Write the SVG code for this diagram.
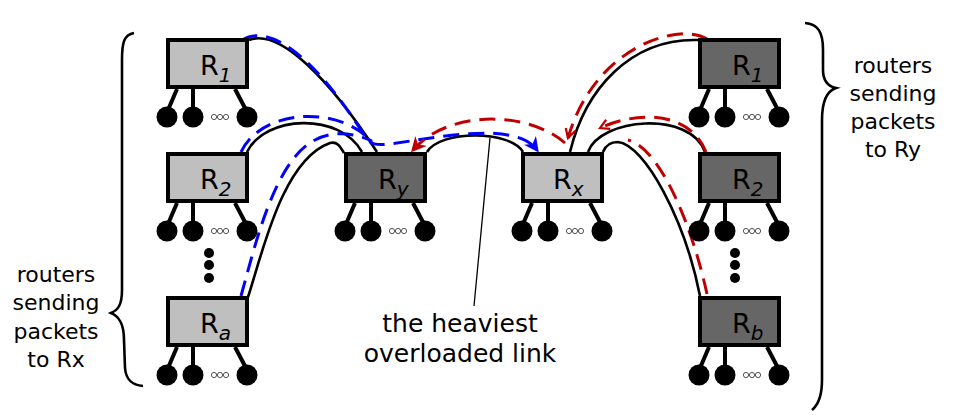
<svg xmlns="http://www.w3.org/2000/svg" xmlns:xlink="http://www.w3.org/1999/xlink" width="958" height="415" viewBox="0 0 958 415">
<style>
.box{stroke:#000;stroke-width:4}
.light{fill:#bfbfbf}
.dark{fill:#666666}
.lbl{font-family:"DejaVu Sans",sans-serif;font-size:27px;fill:#000}
.sub{font-size:20px;font-style:italic}
.txt{font-family:"DejaVu Sans",sans-serif;font-size:22px;fill:#000;text-anchor:middle}
.big{font-family:"DejaVu Sans",sans-serif;font-size:25px;fill:#000;text-anchor:middle}
.wire{fill:none;stroke:#000;stroke-width:2.6}
.blue{fill:none;stroke:#0000ff;stroke-width:3;stroke-dasharray:16 9}
.red{fill:none;stroke:#c00000;stroke-width:3;stroke-dasharray:16 9}
.brace{fill:none;stroke:#000;stroke-width:2.6}
</style>
<defs>
<g id="feet">
<g stroke="#000" stroke-width="4">
<line x1="11" y1="51" x2="2" y2="72"/>
<line x1="27" y1="51" x2="27" y2="72"/>
<line x1="69" y1="51" x2="80" y2="72"/>
</g>
<circle cx="1" cy="79" r="10.5" fill="#000"/>
<circle cx="27" cy="79" r="10.5" fill="#000"/>
<circle cx="81" cy="79" r="10.5" fill="#000"/>
<g fill="#fff" stroke="#555" stroke-width="1">
<circle cx="48" cy="79" r="2.6"/>
<circle cx="54" cy="79" r="2.6"/>
<circle cx="60" cy="79" r="2.6"/>
</g>
</g>
<marker id="arrB" viewBox="0 0 10 10" refX="8" refY="5" markerWidth="15" markerHeight="15" markerUnits="userSpaceOnUse" orient="auto">
<path d="M0,0 L10,5 L0,10 L3,5 z" fill="#0000ff"/>
</marker>
<marker id="arrR" viewBox="0 0 10 10" refX="8" refY="5" markerWidth="15" markerHeight="15" markerUnits="userSpaceOnUse" orient="auto">
<path d="M0,0 L10,5 L0,10 L3,5 z" fill="#c00000"/>
</marker>
<marker id="chevR" viewBox="0 0 12 12" refX="10" refY="6" markerWidth="14" markerHeight="12" markerUnits="userSpaceOnUse" orient="auto">
<path d="M1,1 L10,6 L1,11" fill="none" stroke="#c00000" stroke-width="2.2"/>
</marker>
</defs>

<g id="connectors">
<path class="wire" d="M249,40 C280,28 330,80 377,152"/>
<path class="wire" d="M247,152 C265,115 340,112 362,152"/>
<path class="wire" d="M248,297 C262,255 282,160 330,143 C338,141 341,148 344,153"/>
<path class="wire" d="M427,152 C440,130 510,130 523,152"/>
<path class="wire" d="M570,152 C585,90 630,38 698,40"/>
<path class="wire" d="M588,152 C600,118 690,110 705,152"/>
<path class="wire" d="M603,152 C606,144 612,142 618,142 C645,145 685,220 700,296"/>
<line x1="490" y1="138" x2="474" y2="306" stroke="#000" stroke-width="1.3"/>
<path class="blue" d="M242,40 C275,20 325,72 366,138 C372,146 378,145 390,144 C435,138 515,120 537,150" marker-end="url(#arrB)"/>
<path class="blue" d="M241,152 C262,108 340,105 372,142"/>
<path class="blue" d="M241,296 C254,250 274,160 315,140 C330,132 350,131 372,141"/>
<path class="red" d="M565,143 C530,112 450,108 413,150" marker-end="url(#arrR)"/>
<path class="red" d="M707,39 C680,22 595,45 568,138" marker-end="url(#chevR)"/>
<path class="red" d="M706,152 C690,112 640,110 600,128" marker-end="url(#chevR)"/>
<path class="red" d="M707,294 C692,225 660,148 628,140"/>
</g>

<g id="router-L1" transform="translate(166,38)">
<rect class="box light" x="2" y="2" width="79" height="47"/>
<text class="lbl" x="34" y="37">R<tspan class="sub" dy="7">1</tspan></text>
<use xlink:href="#feet"/>
</g>
<g id="router-L2" transform="translate(166,152)">
<rect class="box light" x="2" y="2" width="79" height="47"/>
<text class="lbl" x="34" y="37">R<tspan class="sub" dy="7">2</tspan></text>
<use xlink:href="#feet"/>
</g>
<g id="router-La" transform="translate(166,296)">
<rect class="box light" x="2" y="2" width="79" height="47"/>
<text class="lbl" x="34" y="37">R<tspan class="sub" dy="7">a</tspan></text>
<use xlink:href="#feet"/>
</g>
<g id="router-Ry" transform="translate(344,152)">
<rect class="box dark" x="2" y="2" width="79" height="47"/>
<text class="lbl" x="34" y="37">R<tspan class="sub" dy="7">y</tspan></text>
<use xlink:href="#feet"/>
</g>
<g id="router-Rx" transform="translate(521,152)">
<rect class="box light" x="2" y="2" width="79" height="47"/>
<text class="lbl" x="32" y="37">R<tspan class="sub" dy="7">x</tspan></text>
<use xlink:href="#feet"/>
</g>
<g id="router-R1" transform="translate(698,38)">
<rect class="box dark" x="2" y="2" width="79" height="47"/>
<text class="lbl" x="34" y="37">R<tspan class="sub" dy="7">1</tspan></text>
<use xlink:href="#feet"/>
</g>
<g id="router-R2" transform="translate(698,152)">
<rect class="box dark" x="2" y="2" width="79" height="47"/>
<text class="lbl" x="34" y="37">R<tspan class="sub" dy="7">2</tspan></text>
<use xlink:href="#feet"/>
</g>
<g id="router-Rb" transform="translate(698,296)">
<rect class="box dark" x="2" y="2" width="79" height="47"/>
<text class="lbl" x="34" y="37">R<tspan class="sub" dy="7">b</tspan></text>
<use xlink:href="#feet"/>
</g>

<g id="ellipsis-left" fill="#000">
<circle cx="209" cy="253" r="5"/>
<circle cx="209" cy="265" r="5"/>
<circle cx="209" cy="278" r="5"/>
</g>
<g id="ellipsis-right" fill="#000">
<circle cx="735" cy="253" r="5"/>
<circle cx="735" cy="265" r="5"/>
<circle cx="735" cy="278" r="5"/>
</g>

<g id="brace-left">
<path class="brace" d="M134,33 C124,35 122,42 122,60 L122,290 C122,305 118,310 111,313 C118,316 124,322 124,340 L125,368 C126,380 132,385 143,386"/>
<text class="txt"><tspan x="56" y="282">routers</tspan><tspan x="56" y="310">sending</tspan><tspan x="56" y="339">packets</tspan><tspan x="56" y="367">to Rx</tspan></text>
</g>
<g id="brace-right">
<path class="brace" d="M805,23 C818,24 823,32 823,50 L823,70 C823,80 827,86 836,88 C827,91 822,100 822,120 L822,380 C822,395 818,405 812,410"/>
<text class="txt"><tspan x="893" y="73">routers</tspan><tspan x="893" y="101">sending</tspan><tspan x="893" y="129">packets</tspan><tspan x="893" y="157">to Ry</tspan></text>
</g>
<g id="label-link">
<text class="big"><tspan x="460" y="332">the heaviest</tspan><tspan x="460" y="362">overloaded link</tspan></text>
</g>
</svg>
